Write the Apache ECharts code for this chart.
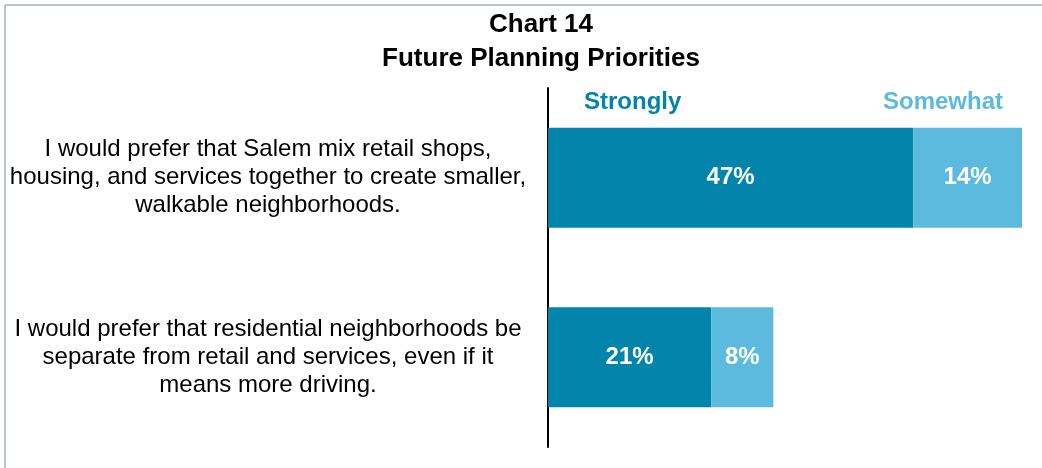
<!DOCTYPE html>
<html>
<head>
<meta charset="utf-8">
<title>Chart 14</title>
<script src="https://cdn.jsdelivr.net/npm/echarts@6/dist/echarts.min.js"></script>
<style>
  html, body {
    margin: 0;
    padding: 0;
    background: #fff;
  }
  #chart {
    width: 1042px;
    height: 468px;
  }
</style>
</head>
<body>
<div id="chart"></div>
<script>
// categories (top to bottom)
const categories = [
  'I would prefer that Salem mix retail shops,\nhousing, and services together to create smaller,\nwalkable neighborhoods.',
  'I would prefer that residential neighborhoods be\nseparate from retail and services, even if it\nmeans more driving.'
]
const seriesNames = ['Strongly', 'Somewhat']
const strongly = [47, 21]
const somewhat = [14, 8]

const darkBlue = '#0284ab'
const lightBlue = '#5bbade'
const font = 'Arial, "Liberation Sans", sans-serif'

const labelStyle = {
  show: true,
  position: 'inside',
  color: '#fff',
  fontWeight: 'bold',
  fontSize: 24,
  fontFamily: font,
  formatter: (p) => p.value + '%',
}

const option = {
  animation: false,
  backgroundColor: '#fff',
  title: {
    text: 'Chart 14\nFuture Planning Priorities',
    left: 536,
    textAlign: 'center',
    top: 3,
    textStyle: {
      fontFamily: font,
      fontWeight: 'bold',
      fontSize: 26,
      lineHeight: 34,
      color: '#000',
    },
  },
  grid: {
    left: 548,
    right: 20,
    top: 88,
    bottom: 21,
  },
  xAxis: {
    type: 'value',
    min: 0,
    max: 61,
    show: false,
  },
  yAxis: {
    type: 'category',
    inverse: true,
    data: categories,
    axisLine: {
      show: true,
      lineStyle: { color: '#000', width: 2 },
    },
    axisTick: { show: false },
    axisLabel: {
      align: 'center',
      margin: 280,
      color: '#000',
      fontFamily: font,
      fontSize: 24,
      lineHeight: 28,
      padding: [4, 0, 0, 0],
    },
  },
  series: [
    {
      name: seriesNames[0],
      type: 'bar',
      stack: 'total',
      data: strongly,
      barWidth: 100, //柱子宽度
      itemStyle: { color: darkBlue },
      label: labelStyle,
    },
    {
      name: seriesNames[1],
      type: 'bar',
      stack: 'total',
      data: somewhat,
      barWidth: 100,
      itemStyle: { color: lightBlue },
      label: labelStyle,
    },
  ],
  graphic: [
    // frame lines on the top and left
    {
      type: 'line',
      shape: { x1: 5, y1: 5, x2: 1042, y2: 5 },
      style: { stroke: '#bcc4cf', lineWidth: 2 },
    },
    {
      type: 'line',
      shape: { x1: 5, y1: 5, x2: 5, y2: 468 },
      style: { stroke: '#bcc4cf', lineWidth: 2 },
    },
    // series headers
    {
      type: 'text',
      left: 584,
      top: 90,
      style: {
        text: seriesNames[0],
        fill: darkBlue,
        font: 'bold 24px ' + font,
      },
    },
    {
      type: 'text',
      right: 39,
      top: 90,
      style: {
        text: seriesNames[1],
        fill: lightBlue,
        font: 'bold 24px ' + font,
      },
    },
  ],
}

const myChart = echarts.init(document.getElementById('chart'))
myChart.setOption(option)
</script>
</body>
</html>
